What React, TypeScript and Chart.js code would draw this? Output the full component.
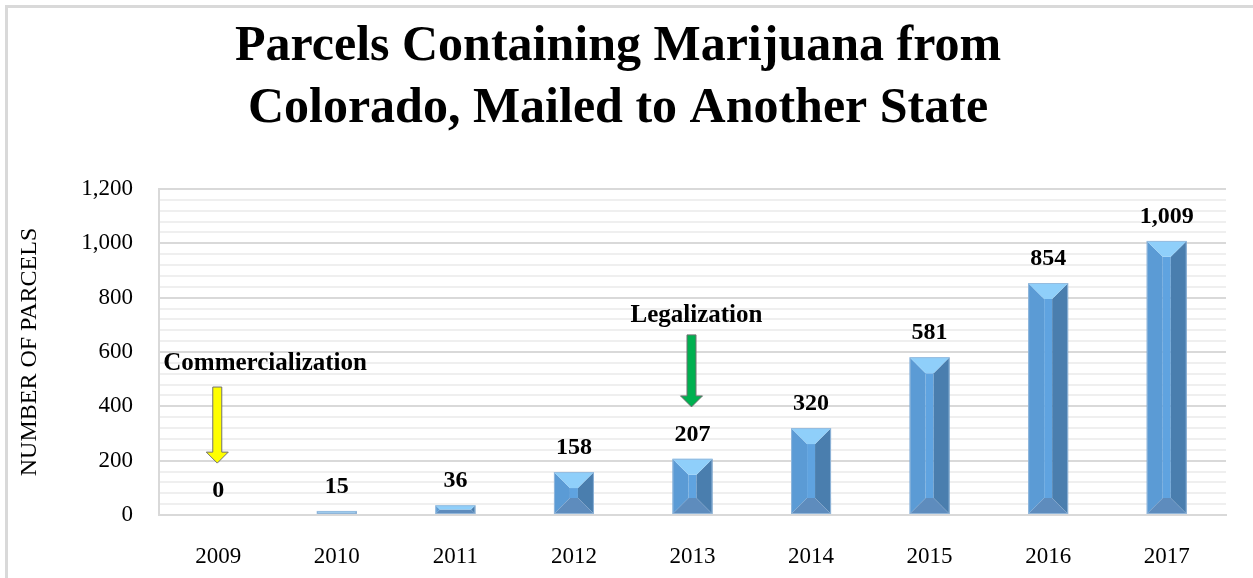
import React, { useEffect, useRef } from "react";
import { Chart, registerables } from "chart.js";

Chart.register(...registerables);

// ---------- data ----------
const years: string[] = ["2009", "2010", "2011", "2012", "2013", "2014", "2015", "2016", "2017"];
const parcels: number[] = [0, 15, 36, 158, 207, 320, 581, 854, 1009];
const titleLines: string[] = ["Parcels Containing Marijuana from", "Colorado, Mailed to Another State"];
const yAxisTitle = "NUMBER OF PARCELS";
const yMin = 0;
const yMax = 1200;
const yMajorStep = 200;
const yMinorStep = 40;

// annotation texts and the values (in parcels) they point at
const annotationTexts: string[] = ["Commercialization", "Legalization"];
const annotationYears: number[] = [0, 4]; // category index
const annotationTextValues: number[] = [534, 710];
const annotationArrowFrom: number[] = [471, 663];
const annotationArrowTo: number[] = [191, 398];
const annotationColors: string[] = ["#FFFF00", "#00B050"];
const annotationAlign: CanvasTextAlign[] = ["left", "center"];
const annotationDx: number[] = [-55, 4];

const SERIF = "'Liberation Serif', 'Times New Roman', serif";

const bevelColors = {
  top: "#8FCFFA",
  left: "#5B9BD5",
  middle: "#5FA3E0",
  right: "#4A7EAE",
  bottom: "#5E8CBD",
};

const titlePlugin = {
  id: "customTitle",
  afterDraw(chart: any) {
    const { ctx } = chart;
    ctx.save();
    ctx.fillStyle = "#000";
    ctx.font = `bold 50px ${SERIF}`;
    ctx.textAlign = "center";
    ctx.textBaseline = "alphabetic";
    ctx.fillText(titleLines[0], 618, 60);
    ctx.fillText(titleLines[1], 618, 122);
    ctx.restore();
  },
};

function poly(ctx: CanvasRenderingContext2D, pts: number[][], color: string) {
  ctx.beginPath();
  ctx.moveTo(pts[0][0], pts[0][1]);
  for (let i = 1; i < pts.length; i++) ctx.lineTo(pts[i][0], pts[i][1]);
  ctx.closePath();
  ctx.fillStyle = color;
  ctx.fill();
}

const bevelPlugin = {
  id: "bevelBars",
  afterDatasetsDraw(chart: any) {
    const { ctx } = chart;
    const meta = chart.getDatasetMeta(0);
    const data = chart.data.datasets[0].data as number[];
    ctx.save();
    meta.data.forEach((bar: any, i: number) => {
      const { x, y, base, width } = bar.getProps(["x", "y", "base", "width"], true);
      const L = x - width / 2;
      const R = x + width / 2;
      const T = Math.min(y, base);
      const B = Math.max(y, base);
      const h = B - T;
      if (h > 0.5) {
        const b = Math.min(16, width / 2 - 4, h / 2);
        poly(ctx, [[L, T], [L + b, T + b], [L + b, B - b], [L, B]], bevelColors.left);
        poly(ctx, [[L + b, T + b], [R - b, T + b], [R - b, B - b], [L + b, B - b]], bevelColors.middle);
        poly(ctx, [[R, T], [R, B], [R - b, B - b], [R - b, T + b]], bevelColors.right);
        poly(ctx, [[L, B], [R, B], [R - b, B - b], [L + b, B - b]], bevelColors.bottom);
        poly(ctx, [[L, T], [R, T], [R - b, T + b], [L + b, T + b]], bevelColors.top);
        ctx.strokeStyle = "rgba(150,185,220,0.9)";
        ctx.lineWidth = 1;
        ctx.strokeRect(L + 0.5, T + 0.5, width - 1, h - 1);
      }
      // data label
      ctx.fillStyle = "#000";
      ctx.font = `bold 24px ${SERIF}`;
      ctx.textAlign = "center";
      ctx.textBaseline = "alphabetic";
      ctx.fillText(data[i].toLocaleString("en-US"), x, T - 18);
    });
    ctx.restore();
  },
};

const annotationPlugin = {
  id: "annotations",
  afterDatasetsDraw(chart: any) {
    const { ctx } = chart;
    const xs = chart.scales.x;
    const ys = chart.scales.y;
    ctx.save();
    annotationTexts.forEach((text, i) => {
      const cx = xs.getPixelForValue(annotationYears[i]);
      // text
      ctx.fillStyle = "#000";
      ctx.font = `bold 25px ${SERIF}`;
      ctx.textAlign = annotationAlign[i];
      ctx.textBaseline = "alphabetic";
      ctx.fillText(text, cx + annotationDx[i], ys.getPixelForValue(annotationTextValues[i]));
      // arrow
      const top = ys.getPixelForValue(annotationArrowFrom[i]);
      const tip = ys.getPixelForValue(annotationArrowTo[i]);
      const shaftHalf = 4.5;
      const headHalf = 11;
      const headLen = 11;
      const ax = cx - 1;
      ctx.beginPath();
      ctx.moveTo(ax - shaftHalf, top);
      ctx.lineTo(ax + shaftHalf, top);
      ctx.lineTo(ax + shaftHalf, tip - headLen);
      ctx.lineTo(ax + headHalf, tip - headLen);
      ctx.lineTo(ax, tip);
      ctx.lineTo(ax - headHalf, tip - headLen);
      ctx.lineTo(ax - shaftHalf, tip - headLen);
      ctx.closePath();
      ctx.fillStyle = annotationColors[i];
      ctx.fill();
      ctx.strokeStyle = "#707070";
      ctx.lineWidth = 1;
      ctx.stroke();
    });
    ctx.restore();
  },
};

export default function App() {
  const canvasRef = useRef<HTMLCanvasElement | null>(null);

  useEffect(() => {
    if (!canvasRef.current) return;
    const chart = new Chart(canvasRef.current, {
      type: "bar",
      data: {
        labels: years,
        datasets: [
          {
            label: "Parcels",
            data: parcels,
            backgroundColor: "rgba(0,0,0,0)",
            borderWidth: 0,
            categoryPercentage: 1,
            barPercentage: 0.337,
          },
        ],
      },
      options: {
        animation: false,
        responsive: true,
        maintainAspectRatio: false,
        layout: { padding: { top: 189, left: 15, right: 27, bottom: 0 } },
        plugins: {
          legend: { display: false },
          tooltip: { enabled: false },
          title: { display: false },
        },
        scales: {
          x: {
            grid: { display: false },
            border: { display: true, color: "#D9D9D9", width: 2 },
            ticks: {
              color: "#000",
              font: { family: SERIF, size: 23 },
              padding: 20,
              maxRotation: 0,
            },
            afterFit(scale: any) {
              scale.height = 63;
            },
          },
          y: {
            min: yMin,
            max: yMax,
            border: { display: true, color: "#D9D9D9", width: 2 },
            grid: {
              drawTicks: false,
              color: (c: any) => (c.tick && c.tick.value % yMajorStep === 0 ? "#D9D9D9" : "#EFEFEF"),
              lineWidth: 2,
            },
            ticks: {
              stepSize: yMinorStep,
              autoSkip: false,
              color: "#000",
              font: { family: SERIF, size: 23 },
              padding: 26,
              callback: (v: any) => (Number(v) % yMajorStep === 0 ? Number(v).toLocaleString("en-US") : ""),
            },
            title: {
              display: true,
              text: yAxisTitle,
              color: "#000",
              font: { family: SERIF, size: 24 },
              padding: { top: 0, bottom: 0 },
            },
            afterFit(scale: any) {
              scale.width = 144;
            },
          },
        },
      },
      plugins: [titlePlugin, bevelPlugin, annotationPlugin],
    });
    return () => chart.destroy();
  }, []);

  return (
    <div style={{ position: "absolute", left: 0, top: 0, width: 1253, height: 578, background: "#fff" }}>
      <div
        style={{
          position: "absolute",
          left: 5,
          top: 5,
          right: 0,
          bottom: 0,
          borderLeft: "3px solid #D9D9D9",
          borderTop: "3px solid #D9D9D9",
        }}
      />
      <canvas ref={canvasRef} style={{ position: "absolute", left: 0, top: 0 }} />
    </div>
  );
}
